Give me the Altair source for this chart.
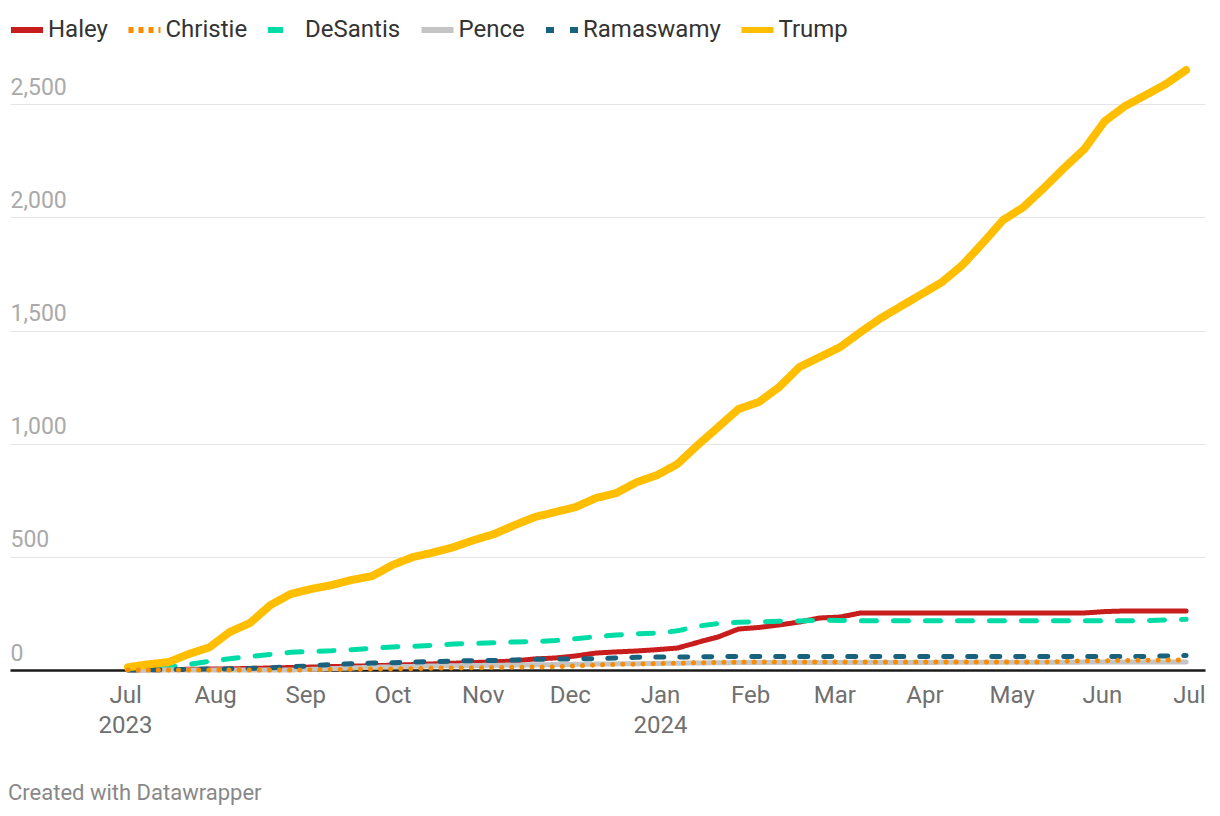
import altair as alt
import pandas as pd

# weekly dates (Sundays) Jul 2 2023 .. Jun 30 2024
weeks = pd.date_range("2023-07-02", periods=53, freq="7D").strftime("%Y-%m-%d").tolist()

names = ["Haley", "Christie", "DeSantis", "Pence", "Ramaswamy", "Trump"]

haley = [0, 1, 2, 3, 4, 5, 7, 9, 11, 13, 15, 17, 19, 21, 24, 27, 30, 33, 36, 40,
         49, 53, 62, 75, 80, 84, 90, 97, 122, 146, 181, 188, 199, 212, 230, 234, 252,
         252, 252, 252, 252, 252, 252, 252, 252, 252, 252, 252, 258, 261, 261, 261, 261]
christie = [0, 0, 0, 0, 0, 0, 0, 0, 0, 1, 2, 3, 4, 5, 6, 8, 9, 10, 11, 12,
            13, 14, 18, 22, 25, 26, 28, 30, 32, 34, 35, 35, 35, 35, 35, 35, 35,
            35, 35, 35, 35, 35, 35, 35, 35, 35, 38, 40, 41, 42, 43, 44, 44]
desantis = [2, 6, 12, 25, 38, 50, 60, 69, 78, 82, 85, 90, 96, 102, 105, 109, 115, 117, 120, 124,
            126, 130, 138, 147, 155, 160, 163, 173, 194, 205, 211, 213, 215, 217, 220, 219, 218,
            218, 218, 218, 218, 218, 218, 218, 218, 218, 218, 218, 218, 218, 218, 221, 224]
pence = [0, 0, 0, 0, 0, 0, 0, 0, 0, 3, 6, 9, 12, 14, 16, 18, 19, 20, 21, 22,
         23, 24, 25, 26, 27, 28, 29, 30, 31, 32, 33, 33, 33, 33, 33, 33, 33,
         33, 33, 33, 34, 34, 34, 34, 34, 34, 34, 35, 35, 35, 35, 35, 35]
ramaswamy = [0, 1, 2, 3, 4, 5, 7, 10, 14, 18, 24, 28, 31, 32, 35, 37, 40, 41, 42, 44,
             47, 49, 49, 50, 53, 56, 57, 57, 58, 59, 60, 60, 60, 60, 60, 60, 60,
             60, 60, 60, 60, 60, 60, 60, 60, 60, 60, 60, 60, 60, 60, 62, 64]
trump = [12, 25, 35, 71, 100, 168, 208, 287, 336, 358, 375, 398, 415, 464, 499, 519, 543, 574, 601, 640,
         676, 698, 720, 760, 782, 830, 861, 910, 994, 1073, 1153, 1184, 1250, 1339, 1383, 1427, 1493,
         1555, 1608, 1661, 1714, 1789, 1886, 1988, 2045, 2129, 2218, 2302, 2425, 2492, 2540, 2589, 2651]

series = {"Haley": haley, "Christie": christie, "DeSantis": desantis,
          "Pence": pence, "Ramaswamy": ramaswamy, "Trump": trump}

colors = ["#c71e1d", "#fa8c00", "#00dca6", "#c4c4c4", "#18627e", "#ffbe00"]
# legend/line dash patterns (Christie's legend squares; its line is drawn dotted separately)
dashes = [[1, 0], [5, 5], [15, 17], [1, 0], [8, 16], [1, 0]]
christie_dots = [0.1, 10]

y_ticks = [0, 500, 1000, 1500, 2000, 2500]
month_ticks = [(2023, m) for m in range(7, 13)] + [(2024, m) for m in range(1, 8)]

rows = []
for n in names:
    for d, v in zip(weeks, series[n]):
        rows.append({"date": d, "value": v, "candidate": n})
df = pd.DataFrame(rows)

legend = alt.Legend(
    title=None, orient="none", legendX=-2, legendY=-48, direction="horizontal",
    symbolType="stroke", symbolSize=1024, symbolStrokeWidth=6,
    labelFontSize=24, labelColor="#333333", labelFont="Roboto",
    labelOffset=2, columnPadding=8.5, labelLimit=300,
)

label_expr = ("(utcmonth(datum.value) == 0 || (utcmonth(datum.value) == 6 && utcyear(datum.value) == 2023))"
              " ? [utcFormat(datum.value, '%b'), utcFormat(datum.value, '%Y')] : utcFormat(datum.value, '%b')")

x_enc = alt.X(
    "date:T",
    scale=alt.Scale(
        type="utc",
        domain=[alt.DateTime(year=2023, month=5, date=22, hours=10, utc=True),
                alt.DateTime(year=2024, month=7, date=6, hours=12, utc=True)],
    ),
    axis=alt.Axis(
        values=[alt.DateTime(year=y, month=m, date=1, utc=True) for y, m in month_ticks],
        labelExpr=label_expr, ticks=False, tickSize=0, grid=False,
        domainColor="#1a1a1a", domainWidth=2.5,
        labelColor="#707070", labelFontSize=24, labelFont="Roboto",
        labelPadding=13, labelLineHeight=30, labelOverlap=False, labelFlush=False,
        title=None,
    ),
)
y_enc = alt.Y(
    "value:Q",
    scale=alt.Scale(domain=[0, 2700], nice=False, zero=True),
    axis=alt.Axis(
        values=y_ticks, format=",.0f", labelAlign="left", labelBaseline="alphabetic",
        labelPadding=0, labelOffset=-10, ticks=False, tickSize=0, domain=False,
        gridColor="#e5e5e5", gridWidth=1.2, labelColor="#aaaaaa", labelFontSize=23,
        labelFont="Roboto", title=None,
    ),
)

base = alt.Chart(df)

main_lines = base.transform_filter(alt.datum.candidate != "Christie").mark_line(
    strokeCap="round", strokeJoin="round"
).encode(
    x=x_enc,
    y=y_enc,
    color=alt.Color("candidate:N", scale=alt.Scale(domain=names, range=colors), legend=legend),
    strokeDash=alt.StrokeDash("candidate:N", scale=alt.Scale(domain=names, range=dashes), legend=legend),
    strokeWidth=alt.condition(alt.datum.candidate == "Trump", alt.value(8), alt.value(5)),
)

christie_line = base.transform_filter(alt.datum.candidate == "Christie").mark_line(
    strokeCap="round", strokeJoin="round", strokeDash=christie_dots, strokeWidth=5,
    color=colors[1],
).encode(x=x_enc, y=y_enc)

chart = alt.layer(main_lines, christie_line).properties(
    width=1195,
    height=611,
    autosize=alt.AutoSizeParams(type="none"),
    padding={"left": 2, "top": 51, "right": 7, "bottom": 145},
    background="white",
    title=alt.TitleParams(
        "Created with Datawrapper", orient="bottom", anchor="start", offset=46,
        fontSize=22, color="#888888", fontWeight="normal", font="Roboto",
    ),
).configure_view(stroke=None)

chart.save("out.html", embed_options={"renderer": "svg", "actions": False})
